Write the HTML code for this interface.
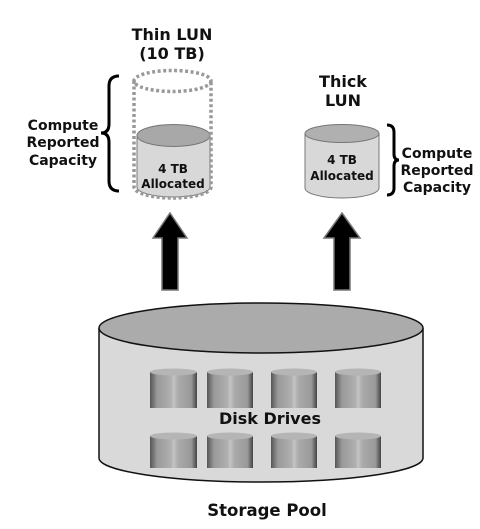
<!DOCTYPE html>
<html><head><meta charset="utf-8"><style>
html,body{margin:0;padding:0;background:#fff;}
svg{display:block;}
text{font-family:"DejaVu Sans","Liberation Sans",sans-serif;font-weight:bold;fill:#111;}
</style></head><body>
<svg width="480" height="529" viewBox="0 0 480 529" xmlns="http://www.w3.org/2000/svg">
<defs>
<linearGradient id="dg" x1="0" x2="1" y1="0" y2="0">
<stop offset="0" stop-color="#555"/><stop offset="0.15" stop-color="#999"/><stop offset="0.45" stop-color="#b0b0b0"/><stop offset="0.5" stop-color="#c4c4c4"/><stop offset="0.6" stop-color="#aaa"/><stop offset="0.88" stop-color="#999"/><stop offset="1" stop-color="#444"/>
</linearGradient>
</defs>
<!-- Thin LUN -->
<text x="172" y="40" font-size="16" text-anchor="middle">Thin LUN</text>
<text x="172" y="59" font-size="16" text-anchor="middle">(10 TB)</text>
<path d="M137,135 L137,187 A36.5,10 0 0 0 210,187 L210,135" fill="#d8d8d8" stroke="#777" stroke-width="1"/>
<ellipse cx="173.5" cy="135.5" rx="36.5" ry="11" fill="#a8a8a8" stroke="#777"/>
<path d="M134,81 L134,187 A38.5,11 0 0 0 211,187 L211,81" fill="none" stroke="#999" stroke-width="3.5" stroke-dasharray="3,2.5"/>
<ellipse cx="172.5" cy="81" rx="38.5" ry="10.5" fill="none" stroke="#999" stroke-width="3.5" stroke-dasharray="3,2.5"/>
<text x="173" y="173" font-size="12" text-anchor="middle">4 TB</text>
<text x="173" y="188" font-size="12" text-anchor="middle">Allocated</text>
<path d="M119,76 Q109,76 109,86 L109,124 Q109,133 101,133 Q109,133 109,142 L109,181 Q109,191 119,191" fill="none" stroke="#000" stroke-width="3"/>
<text x="63" y="130" font-size="14" text-anchor="middle">Compute</text>
<text x="63" y="147" font-size="14" text-anchor="middle">Reported</text>
<text x="63" y="165" font-size="14" text-anchor="middle">Capacity</text>
<!-- Thick LUN -->
<text x="343" y="87" font-size="16" text-anchor="middle">Thick</text>
<text x="343" y="106" font-size="16" text-anchor="middle">LUN</text>
<path d="M305,133 L305,188 A37,10 0 0 0 379,188 L379,133" fill="#d8d8d8" stroke="#777"/>
<ellipse cx="342" cy="133.5" rx="37" ry="9" fill="#b0b0b0" stroke="#777"/>
<text x="342" y="164" font-size="12" text-anchor="middle">4 TB</text>
<text x="342" y="180" font-size="12" text-anchor="middle">Allocated</text>
<path d="M387,125 Q394,125 394,132 L394,154 Q394,160 399,160 Q394,160 394,166 L394,188 Q394,195 387,195" fill="none" stroke="#000" stroke-width="3"/>
<text x="437" y="158" font-size="14" text-anchor="middle">Compute</text>
<text x="437" y="175" font-size="14" text-anchor="middle">Reported</text>
<text x="437" y="192" font-size="14" text-anchor="middle">Capacity</text>
<!-- arrows -->
<polygon points="170,213 187,238 178,238 178,290 162,290 162,238 153,238" fill="#000" stroke="#777" stroke-width="1.5"/>
<polygon points="342,213 360,238 350,238 350,290 334,290 334,238 324,238" fill="#000" stroke="#777" stroke-width="1.5"/>
<!-- storage pool -->
<path d="M99,328 L99,458 A162,24 0 0 0 423,458 L423,328" fill="#d9d9d9" stroke="#111" stroke-width="1.5"/>
<ellipse cx="261" cy="328" rx="162" ry="25" fill="#ababab" stroke="#111" stroke-width="1.5"/>
<g>
<rect x="150" y="372" width="47" height="36" fill="url(#dg)"/><ellipse cx="173.5" cy="372" rx="23.5" ry="3.5" fill="#b5b5b5"/>
<rect x="207" y="372" width="46" height="36" fill="url(#dg)"/><ellipse cx="230" cy="372" rx="23" ry="3.5" fill="#b5b5b5"/>
<rect x="271" y="372" width="46" height="36" fill="url(#dg)"/><ellipse cx="294" cy="372" rx="23" ry="3.5" fill="#b5b5b5"/>
<rect x="335" y="372" width="46" height="36" fill="url(#dg)"/><ellipse cx="358" cy="372" rx="23" ry="3.5" fill="#b5b5b5"/>
<rect x="150" y="436" width="47" height="32" fill="url(#dg)"/><ellipse cx="173.5" cy="436" rx="23.5" ry="3.5" fill="#b5b5b5"/>
<rect x="207" y="436" width="46" height="32" fill="url(#dg)"/><ellipse cx="230" cy="436" rx="23" ry="3.5" fill="#b5b5b5"/>
<rect x="271" y="436" width="46" height="32" fill="url(#dg)"/><ellipse cx="294" cy="436" rx="23" ry="3.5" fill="#b5b5b5"/>
<rect x="335" y="436" width="46" height="32" fill="url(#dg)"/><ellipse cx="358" cy="436" rx="23" ry="3.5" fill="#b5b5b5"/>
</g>
<text x="270" y="424" font-size="16" text-anchor="middle">Disk Drives</text>
<text x="267" y="516" font-size="16.5" text-anchor="middle">Storage Pool</text>
</svg>
</body></html>
